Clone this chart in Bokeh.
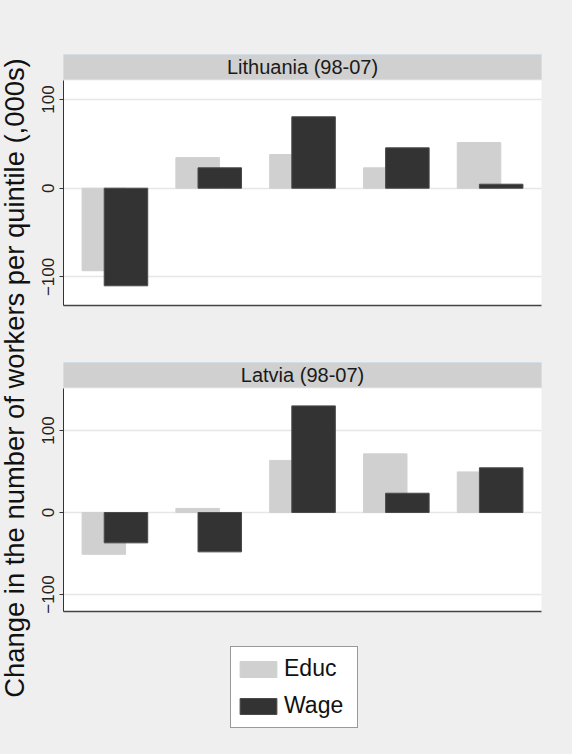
import numpy as np
from bokeh.plotting import figure
from bokeh.layouts import column, row
from bokeh.models import (Range1d, FixedTicker, Label, Legend, LegendItem,
                          ColumnDataSource, GlobalInlineStyleSheet)
from bokeh.transform import dodge
from bokeh.embed import file_html
from bokeh.resources import INLINE

# ---------------- data ----------------
quintiles = [1, 2, 3, 4, 5]
lt_educ = [-93, 34.5, 38, 23, 51.5]
lt_wage = [-110, 23, 80.5, 45.5, 4.5]
lv_educ = [-51, 5, 63.5, 71.5, 49.5]
lv_wage = [-37, -48, 130, 23.5, 54.5]
panel_titles = ["Lithuania (98-07)", "Latvia (98-07)"]
series_names = ["Educ", "Wage"]
y_ticks = [-100, 0, 100]
y_label = "Change in the number of workers per quintile (,000s)"

# ---------------- style ----------------
BG = "#efefef"
EDUC = "#d0d0d0"
WAGE = "#333333"
WAGE_LINE = "#4a4a4a"
FONT = "Liberation Sans"
W_MAIN = 534
LEFT = 25
RIGHT = 31


def title_bar(text, height, top):
    f = figure(width=W_MAIN, height=height, x_range=Range1d(0, 1), y_range=Range1d(0, 1),
               x_axis_type=None, y_axis_type=None, output_backend="svg", toolbar_location=None,
               min_border_left=LEFT, min_border_right=RIGHT, min_border_top=top, min_border_bottom=1,
               background_fill_color="#d0d0d0", border_fill_color=BG,
               outline_line_color="#d3dfe8", outline_line_width=1)
    f.grid.visible = False
    f.add_layout(Label(x=0.5, y=0.5, text=text, text_align="center", text_baseline="middle",
                       text_font=FONT, text_font_size="20px", text_color="#1a1a1a"))
    return f


def add_bars(p, src):
    re = p.vbar(x=dodge("q", -0.118), top="educ", bottom=0, width=0.464, source=src,
                fill_color=EDUC, line_color=EDUC, line_width=1)
    rw = p.vbar(x=dodge("q", 0.118), top="wage", bottom=0, width=0.464, source=src,
                fill_color=WAGE, line_color=WAGE_LINE, line_width=1)
    return re, rw


def panel(src, y0, y1, height, bottom):
    p = figure(width=W_MAIN, height=height, x_range=Range1d(0.452, 5.548), y_range=Range1d(y0, y1),
               output_backend="svg", toolbar_location=None,
               min_border_left=LEFT, min_border_right=RIGHT, min_border_top=0, min_border_bottom=bottom,
               background_fill_color="white", border_fill_color=BG, outline_line_color=None)
    add_bars(p, src)
    p.xgrid.visible = False
    p.ygrid.grid_line_color = "#e6e6e6"
    p.ygrid.grid_line_width = 1.5
    p.yaxis.ticker = FixedTicker(ticks=y_ticks)
    p.yaxis.minor_tick_line_color = None
    p.yaxis.major_tick_in = 0
    p.yaxis.major_tick_out = 4
    p.yaxis.major_label_orientation = "vertical"
    p.yaxis.major_label_standoff = 5
    p.yaxis.major_label_text_font = FONT
    p.yaxis.major_label_text_font_size = "17px"
    p.yaxis.major_label_text_color = "#222222"
    p.yaxis.axis_line_color = "#333333"
    p.yaxis.major_tick_line_color = "#333333"
    p.xaxis.ticker = FixedTicker(ticks=[])
    p.xaxis.minor_tick_line_color = None
    p.xaxis.major_tick_out = 0
    p.xaxis.major_tick_in = 0
    p.xaxis.major_label_standoff = 0
    p.xaxis.axis_line_color = "#444444"
    p.xaxis.axis_line_width = 1.5
    return p


src_lt = ColumnDataSource(dict(q=quintiles, educ=lt_educ, wage=lt_wage))
src_lv = ColumnDataSource(dict(q=quintiles, educ=lv_educ, wage=lv_wage))

t1 = title_bar(panel_titles[0], 80, 54)
p1 = panel(src_lt, -132.2, 121.4, 253, 28)
t2 = title_bar(panel_titles[1], 55, 29)
p2 = panel(src_lv, -120.7, 151.2, 252, 29)

# legend figure: the same bar renderers, with a y window that shows none of them
lf = figure(width=W_MAIN, height=114, x_range=Range1d(0.452, 5.548), y_range=Range1d(1000, 1001),
            x_axis_type=None, y_axis_type=None, output_backend="svg", toolbar_location=None,
            min_border_left=0, min_border_right=0, min_border_top=0, min_border_bottom=0,
            background_fill_color=BG, border_fill_color=BG, outline_line_color=None)
lf.grid.visible = False
r_e, r_w = add_bars(lf, src_lv)
legend = Legend(items=[LegendItem(label=series_names[0], renderers=[r_e]),
                       LegendItem(label=series_names[1], renderers=[r_w])],
                location=(167, 26), orientation="vertical",
                glyph_width=46, glyph_height=20,
                label_text_font=FONT, label_text_font_size="23px", label_text_color="#111111",
                label_standoff=3, padding=4, spacing=2, label_height=35, label_width=69,
                border_line_color="#333333", border_line_width=1,
                background_fill_color="white", background_fill_alpha=1, margin=0)
lf.add_layout(legend, "center")

# y-label figure
yl = figure(width=38, height=754, x_range=Range1d(0, 38), y_range=Range1d(0, 754),
            x_axis_type=None, y_axis_type=None, output_backend="svg", toolbar_location=None,
            min_border_left=0, min_border_right=0, min_border_top=0, min_border_bottom=0,
            background_fill_color=BG, border_fill_color=BG, outline_line_color=None)
yl.grid.visible = False
yl.add_layout(Label(x=14, y=376.5, text=y_label, angle=90, angle_units="deg",
                    text_align="center", text_baseline="alphabetic",
                    text_font=FONT, text_font_size="27.4px", text_color="#111111"))

layout = row(yl, column(t1, p1, t2, p2, lf, spacing=0), spacing=0)
layout.stylesheets = [GlobalInlineStyleSheet(css="body { background: #efefef; }")]

open("out.html", "w").write(file_html(layout, INLINE))
